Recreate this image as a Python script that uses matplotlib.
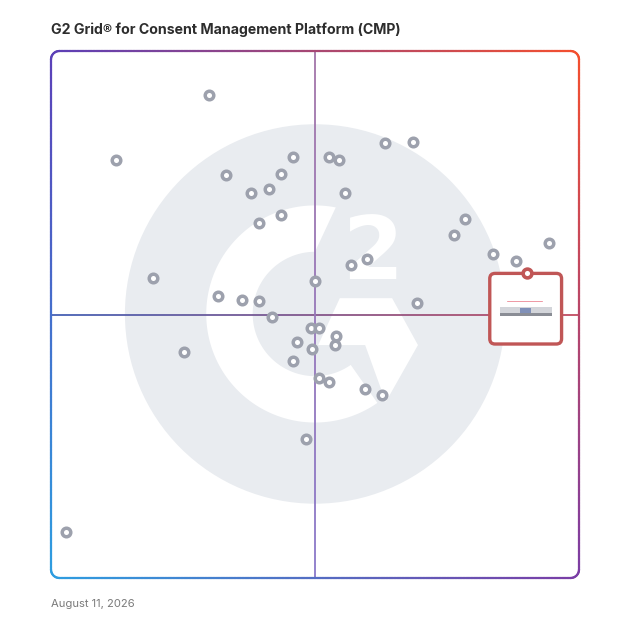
import numpy as np
import matplotlib
matplotlib.use("Agg")
from matplotlib import pyplot as plt
from matplotlib.collections import LineCollection
from matplotlib.patches import Circle, Polygon, FancyBboxPatch, Rectangle

# satisfaction (x) and market presence (y), 0-100
sat = [29.9, 12.4, 33.1, 37.9, 41.2, 43.6, 45.9, 52.7, 54.5, 55.7,
       63.3, 68.5, 39.4, 43.6, 78.4, 76.3, 83.8, 88.1, 94.3, 59.8,
       56.9, 50.0, 19.4, 31.6, 36.1, 39.3, 69.4, 41.9, 49.2, 50.8,
       53.9, 53.8, 46.5, 49.4, 25.2, 45.8, 50.8, 52.7, 59.5, 62.7,
       48.3, 2.9]
pres = [91.7, 79.4, 76.5, 73.1, 73.8, 76.7, 79.9, 79.9, 79.3, 73.0,
        82.6, 82.8, 67.4, 68.9, 68.1, 65.0, 61.4, 60.1, 63.5, 60.5,
        59.3, 56.3, 56.9, 53.5, 52.7, 52.5, 52.2, 49.5, 47.5, 47.5,
        45.9, 44.3, 44.8, 43.5, 42.8, 41.2, 38.0, 37.1, 35.9, 34.7,
        26.4, 8.8]
hl_sat, hl_pres = 90.2, 57.8
mid_x, mid_y = 50, 50

title = "G2 Grid\u00ae for Consent Management Platform (CMP)"
date = "August 11, 2026"

TL = np.array([0.36, 0.25, 0.72])
TR = np.array([0.96, 0.31, 0.18])
BL = np.array([0.18, 0.62, 0.88])
BR = np.array([0.48, 0.24, 0.65])


def grad(u, v):
    return TL*(1-u)*v + TR*u*v + BL*(1-u)*(1-v) + BR*u*(1-v)


def rounded_rect(x0, y0, x1, y1, r):
    pts = []
    corners = [(x1 - r, y1 - r, 0), (x0 + r, y1 - r, 90),
               (x0 + r, y0 + r, 180), (x1 - r, y0 + r, 270)]
    for cx, cy, a in corners:
        t = np.radians(np.linspace(a, a + 90, 12))
        pts += list(zip(cx + r*np.cos(t), cy + r*np.sin(t)))
    pts.append(pts[0])
    pts = np.array(pts)
    out = [pts[0]]
    for p, q in zip(pts[:-1], pts[1:]):
        k = max(2, int(np.hypot(*(q - p)) * 2))
        for s in np.linspace(0, 1, k)[1:]:
            out.append(p + (q - p)*s)
    return np.array(out)


fig = plt.figure(figsize=(6.28, 6.28), dpi=100)
ax = fig.add_axes([51/628, 50/628, 528/628, 527/628])
ax.set_xlim(0, 100)
ax.set_ylim(0, 100)
ax.axis("off")

# background logo
ax.add_patch(Circle((50, 50.1), 36, color="#e9ecf0", zorder=0, lw=0))
ro, ri = 20.6, 11.8
ta = np.radians(np.linspace(79, 305, 120))
tb = np.radians(np.linspace(305, 90, 120))
ring = np.vstack([np.c_[50 + ro*np.cos(ta), 50.1 + ro*np.sin(ta)],
                  np.c_[50 + ri*np.cos(tb), 50.1 + ri*np.sin(tb)]])
ax.add_patch(Polygon(ring, closed=True, color="white", lw=0, zorder=1))
chev = [(54.7, 53.1), (64.6, 53.1), (69.5, 44.2), (63.4, 33.4),
        (59.5, 44.2), (50.6, 44.2)]
ax.add_patch(Polygon(chev, closed=True, color="white", lw=0, zorder=1))
ax.text(60.9, 61.2, "2", color="white", fontsize=63, fontweight="bold",
        ha="center", va="center", zorder=1)

# midlines
n = 200
xs = np.linspace(0, 100, n)
seg = [[(xs[i], mid_y), (xs[i+1], mid_y)] for i in range(n-1)]
hcol = [np.array([0.27, 0.38, 0.71])*(1-t) + np.array([0.76, 0.30, 0.38])*t
        for t in np.linspace(0, 1, n-1)]
ax.add_collection(LineCollection(seg, colors=hcol, linewidths=1.3, zorder=2))
seg = [[(mid_x, xs[i]), (mid_x, xs[i+1])] for i in range(n-1)]
vcol = [np.array([0.54, 0.47, 0.79])*(1-t) + np.array([0.64, 0.46, 0.66])*t
        for t in np.linspace(0, 1, n-1)]
ax.add_collection(LineCollection(seg, colors=vcol, linewidths=1.3, zorder=2))

# gradient frame
fr = rounded_rect(0, 0, 100, 100, 1.6)
segs = np.stack([fr[:-1], fr[1:]], axis=1)
mids = segs.mean(axis=1) / 100.0
cols = [np.clip(grad(u, v), 0, 1) for u, v in mids]
lc = LineCollection(segs, colors=cols, linewidths=1.6, zorder=3,
                    capstyle="round")
lc.set_clip_on(False)
ax.add_collection(lc)

# highlighted product box
bw, bh = 13.6, 13.4
bx = hl_sat - 0.3
ax.add_patch(FancyBboxPatch((bx - bw/2, hl_pres - bh), bw, bh,
                            boxstyle="round,pad=0,rounding_size=1.0",
                            fc="white", ec="#c05656", lw=2.4, zorder=4))
ax.add_patch(Rectangle((bx - 4.9, hl_pres - 8.0), 9.8, 1.7,
                       fc="#d3d5da", ec="none", zorder=4))
ax.add_patch(Rectangle((bx - 4.9, hl_pres - 8.0), 9.8, 0.5,
                       fc="#8a8d95", ec="none", zorder=4))
ax.plot([bx - 3.6, bx + 3.0], [hl_pres - 5.3, hl_pres - 5.3],
        color="#e87080", lw=0.5, zorder=4)
ax.add_patch(Rectangle((bx - 1.0, hl_pres - 7.6), 2.0, 1.0,
                       fc="#8090b8", ec="none", zorder=4))

# products
ax.scatter(sat, pres, s=38, facecolor="white", edgecolor="#9da1ad",
           linewidths=2.5, zorder=5, clip_on=False)
ax.scatter([hl_sat], [hl_pres], s=40, facecolor="white", edgecolor="#c05656",
           linewidths=2.6, zorder=6, clip_on=False)

fig.text(51/628, 1 - 30/628, title, fontsize=10.2, fontweight="bold",
         color="#2d2d2d", va="center", ha="left", family="Inter")
fig.text(51/628, 1 - 604/628, date, fontsize=8.1, color="#7a7a7a",
         va="center", ha="left", family="Inter")

fig.savefig("out.png", dpi=100, facecolor="white")
